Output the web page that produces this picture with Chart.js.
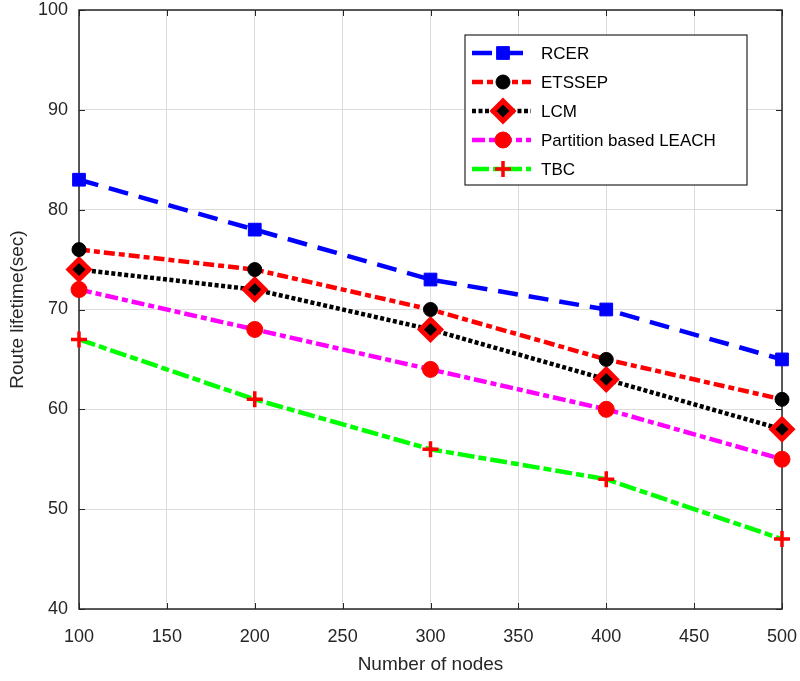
<!DOCTYPE html>
<html>
<head>
<meta charset="utf-8">
<script src="https://cdn.jsdelivr.net/npm/chart.js@4/dist/chart.umd.min.js"></script>
<style>
  html, body { margin: 0; padding: 0; background: #fff; }
  #wrap { width: 800px; height: 681px; }
</style>
</head>
<body>
<div id="wrap"><canvas id="routeChart" width="800" height="681"></canvas></div>
<script>
// data
const nodes = [100, 200, 300, 400, 500];
const seriesNames = ["RCER", "ETSSEP", "LCM", "Partition based LEACH", "TBC"];
const rcer = [83, 78, 73, 70, 65];
const etssep = [76, 74, 70, 65, 61];
const lcm = [74, 72, 68, 63, 58];
const partitionLeach = [72, 68, 64, 60, 55];
const tbc = [67, 61, 56, 53, 47];
const xTicks = [100, 150, 200, 250, 300, 350, 400, 450, 500];
const yTicks = [40, 50, 60, 70, 80, 90, 100];

const FONT = "'Liberation Sans', Arial, sans-serif";
const TXT = "#262626";

function pts(vals) {
  return nodes.map((n, i) => ({ x: n, y: vals[i] }));
}

// draws a marker for the legend (same look as the datasets)
function drawMarker(ctx, ds, x, y) {
  const opts = {
    pointStyle: ds.pointStyle,
    radius: ds.pointRadius,
    rotation: 0,
    borderWidth: ds.pointBorderWidth
  };
  ctx.save();
  ctx.fillStyle = ds.pointBackgroundColor;
  ctx.strokeStyle = ds.pointBorderColor;
  ctx.lineWidth = ds.pointBorderWidth;
  ctx.setLineDash([]);
  Chart.helpers.drawPoint(ctx, opts, x, y);
  ctx.restore();
}

// box, inward ticks and legend like the matlab figure
const boxPlugin = {
  id: "boxPlugin",
  beforeDatasetsDraw(chart) {
    const { ctx, chartArea: a, scales } = chart;
    ctx.save();
    ctx.strokeStyle = TXT;
    ctx.lineWidth = 1;
    ctx.beginPath();
    xTicks.forEach(v => {
      const px = Math.round(scales.x.getPixelForValue(v)) + 0.5;
      ctx.moveTo(px, a.bottom); ctx.lineTo(px, a.bottom - 6);
      ctx.moveTo(px, a.top); ctx.lineTo(px, a.top + 6);
    });
    yTicks.forEach(v => {
      const py = Math.round(scales.y.getPixelForValue(v)) + 0.5;
      ctx.moveTo(a.left, py); ctx.lineTo(a.left + 6, py);
      ctx.moveTo(a.right, py); ctx.lineTo(a.right - 6, py);
    });
    ctx.stroke();
    ctx.lineWidth = 1.5;
    ctx.strokeRect(a.left, a.top, a.right - a.left, a.bottom - a.top);
    ctx.restore();
  },
  afterDatasetsDraw(chart) {
    const { ctx, chartArea: a } = chart;
    const bx = a.right - 317, by = a.top + 25, bw = 282, bh = 150;
    ctx.save();
    ctx.fillStyle = "#fff";
    ctx.fillRect(bx, by, bw, bh);
    ctx.strokeStyle = TXT;
    ctx.lineWidth = 1.2;
    ctx.strokeRect(bx, by, bw, bh);
    ctx.font = "17px " + FONT;
    ctx.textBaseline = "middle";
    chart.data.datasets.forEach((ds, i) => {
      const y = by + 18 + i * 29;
      ctx.strokeStyle = ds.borderColor;
      ctx.lineWidth = ds.borderWidth;
      ctx.setLineDash(ds.borderDash);
      ctx.beginPath();
      ctx.moveTo(bx + 7, y);
      ctx.lineTo(bx + 66, y);
      ctx.stroke();
      ctx.setLineDash([]);
      drawMarker(ctx, ds, bx + 38, y);
      ctx.fillStyle = "#000";
      ctx.fillText(ds.label, bx + 76, y + 1);
    });
    ctx.restore();
  }
};

const ctx = document.getElementById("routeChart").getContext("2d");

new Chart(ctx, {
  type: "line",
  data: {
    datasets: [
      {
        label: seriesNames[0],
        data: pts(rcer),
        borderColor: "#0000ff",
        borderWidth: 4.5,
        borderDash: [20, 11],
        pointStyle: "rect",
        pointRadius: 9,
        pointBorderWidth: 1,
        pointBackgroundColor: "#0000ff",
        pointBorderColor: "#0000ff",
        clip: false
      },
      {
        label: seriesNames[1],
        data: pts(etssep),
        borderColor: "#ff0000",
        borderWidth: 4.5,
        borderDash: [11, 4, 6, 4],
        pointStyle: "circle",
        pointRadius: 7,
        pointBorderWidth: 1,
        pointBackgroundColor: "#000000",
        pointBorderColor: "#000000",
        clip: false
      },
      {
        label: seriesNames[2],
        data: pts(lcm),
        borderColor: "#000000",
        borderWidth: 4.5,
        borderDash: [4, 2.5],
        pointStyle: "rectRot",
        pointRadius: 10,
        pointBorderWidth: 5,
        pointBackgroundColor: "#000000",
        pointBorderColor: "#ff0000",
        clip: false
      },
      {
        label: seriesNames[3],
        data: pts(partitionLeach),
        borderColor: "#ff00ff",
        borderWidth: 4.5,
        borderDash: [13, 4, 6, 4],
        pointStyle: "circle",
        pointRadius: 8,
        pointBorderWidth: 1,
        pointBackgroundColor: "#ff0000",
        pointBorderColor: "#ff0000",
        clip: false
      },
      {
        label: seriesNames[4],
        data: pts(tbc),
        borderColor: "#00ff00",
        borderWidth: 4.5,
        borderDash: [17, 4, 8, 4],
        pointStyle: "cross",
        pointRadius: 8,
        pointBorderWidth: 3.5,
        pointBackgroundColor: "#ff0000",
        pointBorderColor: "#ff0000",
        clip: false
      }
    ]
  },
  options: {
    responsive: false,
    animation: false,
    layout: { autoPadding: false, padding: { top: 10, right: 18, left: 0, bottom: 0 } },
    plugins: {
      legend: { display: false },
      tooltip: { enabled: false }
    },
    elements: { line: { tension: 0 } },
    scales: {
      x: {
        type: "linear",
        min: 100,
        max: 500,
        afterBuildTicks: s => { s.ticks = xTicks.map(v => ({ value: v })); },
        afterFit: s => { s.height = 72; s.paddingLeft = 0; s.paddingRight = 0; },
        grid: { color: "#dcdcdc", lineWidth: 1, drawTicks: false },
        border: { display: false },
        ticks: { color: TXT, padding: 17, maxRotation: 0, font: { family: FONT, size: 18 } },
        title: {
          display: true,
          text: "Number of nodes",
          color: TXT,
          padding: { top: 0, bottom: 5 },
          font: { family: FONT, size: 19 }
        }
      },
      y: {
        min: 40,
        max: 100,
        afterBuildTicks: s => { s.ticks = yTicks.map(v => ({ value: v })); },
        afterFit: s => { s.width = 79; s.paddingTop = 0; s.paddingBottom = 0; },
        grid: { color: "#dcdcdc", lineWidth: 1, drawTicks: false },
        border: { display: false },
        ticks: { color: TXT, padding: 11, font: { family: FONT, size: 18 } },
        title: {
          display: true,
          text: "Route lifetime(sec)",
          color: TXT,
          padding: { top: 6, bottom: 0 },
          font: { family: FONT, size: 19 }
        }
      }
    }
  },
  plugins: [boxPlugin]
});
</script>
</body>
</html>
